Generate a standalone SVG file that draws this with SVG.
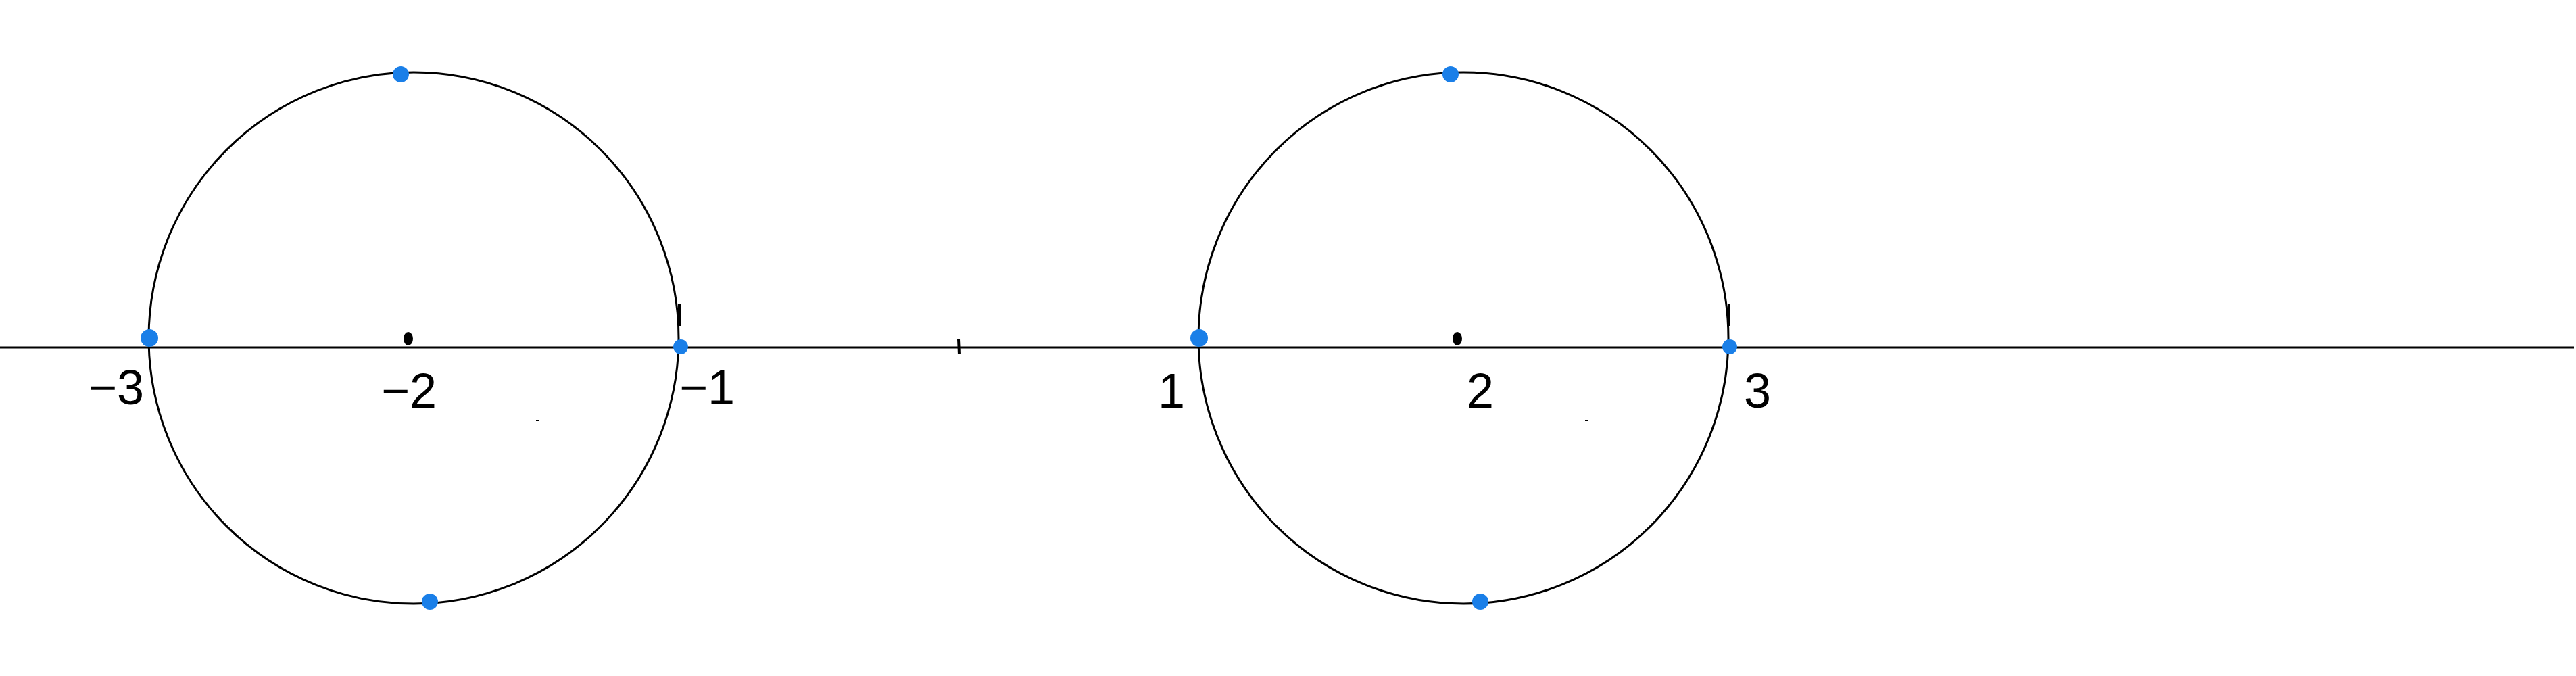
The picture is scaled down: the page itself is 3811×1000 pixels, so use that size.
<svg xmlns="http://www.w3.org/2000/svg" width="3811" height="1000" viewBox="0 0 3811 1000">
<style>
.c{fill:none;stroke:#000;stroke-width:3}
.b{fill:#1a7fe8}
.k{fill:#000}
.t{font-family:"Liberation Sans",sans-serif;font-size:72px;fill:#000;text-anchor:middle}
.tk{stroke:#000;stroke-width:4}
</style>
<rect width="3811" height="1000" fill="#fff"/>
<g id="connectors">
<line x1="0" y1="514" x2="3808" y2="514" stroke="#000" stroke-width="3"/>
<line class="tk" x1="1418" y1="502" x2="1419" y2="524"/>
<line class="tk" x1="1005" y1="450" x2="1005" y2="482"/>
<line class="tk" x1="2558" y1="450" x2="2558" y2="482"/>
</g>
<g id="circle1">
<ellipse class="c" cx="612" cy="500" rx="392" ry="393"/>
<ellipse class="k" cx="604" cy="501" rx="7" ry="10"/>
<circle class="b" cx="593" cy="110" r="12"/>
<circle class="b" cx="636" cy="890" r="12"/>
<circle class="b" cx="221" cy="500" r="13"/>
<circle class="b" cx="1007" cy="513" r="11"/>
<text class="t" x="172" y="598">−3</text>
<text class="t" x="605" y="603">−2</text>
<text class="t" x="1046" y="598">−1</text>
<rect x="793" y="621" width="4" height="2" fill="#000"/>
</g>
<g id="circle2">
<ellipse class="c" cx="2165" cy="500" rx="392" ry="393"/>
<ellipse class="k" cx="2156" cy="501" rx="7" ry="10"/>
<circle class="b" cx="2146" cy="110" r="12"/>
<circle class="b" cx="2190" cy="890" r="12"/>
<circle class="b" cx="1774" cy="500" r="13"/>
<circle class="b" cx="2559" cy="513" r="11"/>
<text class="t" x="1733" y="603">1</text>
<text class="t" x="2190" y="603">2</text>
<text class="t" x="2600" y="603">3</text>
<rect x="2345" y="621" width="4" height="2" fill="#000"/>
</g>
</svg>
